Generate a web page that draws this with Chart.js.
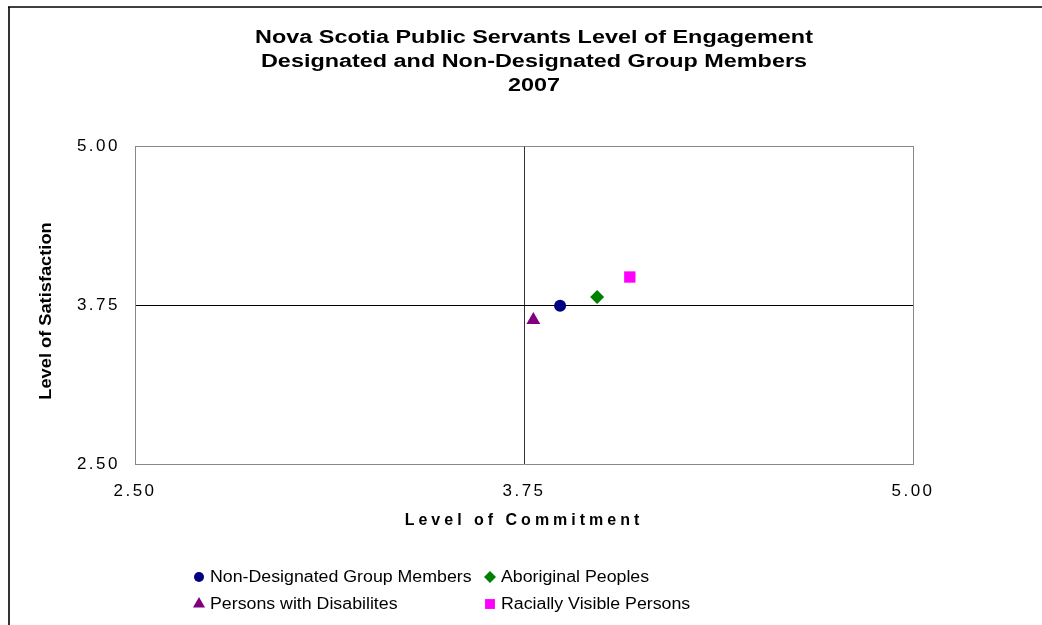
<!DOCTYPE html>
<html>
<head>
<meta charset="utf-8">
<script src="https://cdn.jsdelivr.net/npm/chart.js@4/dist/chart.umd.min.js"></script>
<style>
  html, body { margin: 0; padding: 0; background: #fff; }
  #wrap { width: 1042px; height: 625px; position: relative; }
</style>
</head>
<body>
<div id="wrap"><canvas id="engagement_Chart" width="1042" height="625"></canvas></div>
<script>
// Chart text
const titleLines = [
    'Nova Scotia Public Servants Level of Engagement',
    'Designated and Non-Designated Group Members',
    '2007'
];
const xAxisTitle = 'Level of Commitment';
const yAxisTitle = 'Level of Satisfaction';

// Axis ticks (both axes use the same scale)
const tickValues = [2.50, 3.75, 5.00];

// Series: [commitment, satisfaction]
const seriesNames = [
    'Non-Designated Group Members',
    'Aboriginal Peoples',
    'Persons with Disabilites',
    'Racially Visible Persons'
];
const nonDesignated = [{ x: 3.866, y: 3.745 }];
const aboriginal = [{ x: 3.985, y: 3.812 }];
const disabilities = [{ x: 3.78, y: 3.632 }];
const raciallyVisible = [{ x: 4.09, y: 3.97 }];

const FONT = "'Liberation Sans', Arial, sans-serif";

// the original chart uses a wide font, so stretch text horizontally
function drawWideText(ctx, text, x, y, sx) {
    ctx.save();
    ctx.translate(x, y);
    ctx.scale(sx, 1);
    ctx.fillText(text, 0, 0);
    ctx.restore();
}

// Draws title, axis titles, the two-column legend and the outer frame
const decorPlugin = {
    id: 'decor',
    beforeDraw(chart) {
        // wider tick labels
        chart.ctx.letterSpacing = '2.5px';
    },
    beforeDatasetsDraw(chart) {
        chart.ctx.letterSpacing = '0px';
    },
    afterDraw(chart) {
        const ctx = chart.ctx;
        const area = chart.chartArea;
        ctx.save();
        ctx.letterSpacing = '0px';

        // outer frame (only top and left edges are visible)
        ctx.strokeStyle = '#333';
        ctx.lineWidth = 2;
        ctx.beginPath();
        ctx.moveTo(9, 7);
        ctx.lineTo(9, 625);
        ctx.stroke();
        ctx.strokeStyle = '#000';
        ctx.lineWidth = 1.5;
        ctx.beginPath();
        ctx.moveTo(8, 7);
        ctx.lineTo(1042, 7);
        ctx.stroke();

        // main title
        ctx.fillStyle = '#000';
        ctx.textAlign = 'center';
        ctx.textBaseline = 'middle';
        ctx.font = 'bold 18px ' + FONT;
        const titleY = [38, 62, 86];
        titleLines.forEach((line, i) => drawWideText(ctx, line, 534, titleY[i], 1.3));

        // x axis title (spaced letters like the original)
        ctx.font = 'bold 16px ' + FONT;
        ctx.letterSpacing = '4px';
        ctx.fillText(xAxisTitle, (area.left + area.right) / 2, 521);
        ctx.letterSpacing = '0px';

        // y axis title
        ctx.save();
        ctx.translate(47, 311);
        ctx.rotate(-Math.PI / 2);
        ctx.font = 'bold 16px ' + FONT;
        drawWideText(ctx, yAxisTitle, 0, 0, 1.14);
        ctx.restore();

        // legend, two columns
        const colX = [199, 490];
        const rowY = [577, 604];
        ctx.font = '16px ' + FONT;
        ctx.textAlign = 'left';
        chart.data.datasets.forEach((ds, i) => {
            const cx = colX[i % 2];
            const cy = rowY[Math.floor(i / 2)];
            ctx.fillStyle = ds.backgroundColor;
            ctx.strokeStyle = ds.backgroundColor;
            Chart.helpers.drawPoint(ctx, {
                pointStyle: ds.pointStyle,
                radius: ds.legendRadius,
                rotation: 0,
                borderWidth: 0
            }, cx, cy);
            ctx.fillStyle = '#000';
            drawWideText(ctx, ds.label, cx + 11, cy + 1, 1.11);
        });

        ctx.restore();
    }
};

const ctx = document.getElementById('engagement_Chart').getContext('2d');
new Chart(ctx, {
    type: 'scatter',
    data: {
        datasets: [
            { label: seriesNames[0], data: nonDesignated, pointStyle: 'circle', pointRadius: 6, legendRadius: 5, backgroundColor: '#000080', borderColor: '#000080' },
            { label: seriesNames[1], data: aboriginal, pointStyle: 'rectRot', pointRadius: 7, legendRadius: 6, backgroundColor: '#008000', borderColor: '#008000' },
            { label: seriesNames[2], data: disabilities, pointStyle: 'triangle', pointRadius: 8, legendRadius: 7, backgroundColor: '#800080', borderColor: '#800080' },
            { label: seriesNames[3], data: raciallyVisible, pointStyle: 'rect', pointRadius: 8, legendRadius: 7, backgroundColor: '#FF00FF', borderColor: '#FF00FF' }
        ]
    },
    options: {
        responsive: false,
        animation: false,
        layout: {
            padding: { left: 0, top: 146, right: 129, bottom: 121 }
        },
        plugins: {
            legend: { display: false },
            title: { display: false },
            tooltip: { enabled: false }
        },
        elements: {
            point: { borderWidth: 0 }
        },
        scales: {
            x: {
                type: 'linear',
                min: 2.5,
                max: 5,
                afterBuildTicks: scale => { scale.ticks = tickValues.map(v => ({ value: v })); },
                afterFit: scale => { scale.height = 40; },
                ticks: {
                    color: '#000',
                    font: { family: FONT, size: 17 },
                    padding: 17,
                    callback: v => Number(v).toFixed(2)
                },
                grid: {
                    drawTicks: false,
                    lineWidth: 1,
                    color: c => c.tick && c.tick.value === 3.75 ? '#333' : (c.tick && c.tick.value === 5 ? '#888' : 'rgba(0,0,0,0)')
                },
                border: { display: true, color: '#888', width: 1 }
            },
            y: {
                type: 'linear',
                min: 2.5,
                max: 5,
                afterBuildTicks: scale => { scale.ticks = tickValues.map(v => ({ value: v })); },
                afterFit: scale => { scale.width = 135; },
                ticks: {
                    color: '#000',
                    font: { family: FONT, size: 17 },
                    padding: 15,
                    callback: v => Number(v).toFixed(2)
                },
                grid: {
                    drawTicks: false,
                    lineWidth: 1,
                    color: c => c.tick && c.tick.value === 3.75 ? '#000' : (c.tick && c.tick.value === 5 ? '#888' : 'rgba(0,0,0,0)')
                },
                border: { display: true, color: '#888', width: 1 }
            }
        }
    },
    plugins: [decorPlugin]
});
</script>
</body>
</html>
